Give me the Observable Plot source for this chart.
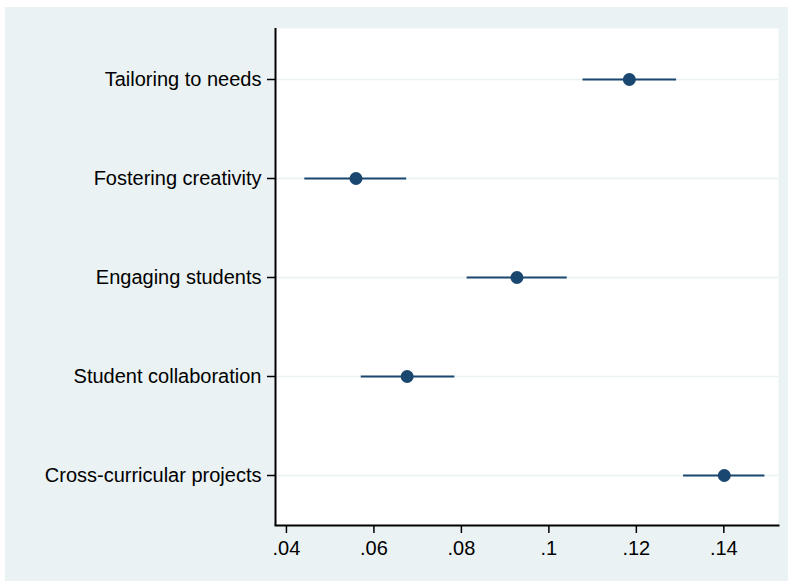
<!DOCTYPE html>
<html>
<head>
<meta charset="utf-8">
<script src="https://cdn.jsdelivr.net/npm/d3@7"></script>
<script src="https://cdn.jsdelivr.net/npm/@observablehq/plot@0.6"></script>
<style>
  html, body { margin: 0; padding: 0; background: #ffffff; }
  #chart { position: absolute; left: 5px; top: 7px; }
  #chart svg { display: block; }
</style>
</head>
<body>
<div id="chart"></div>
<script>
const categories = ["Tailoring to needs", "Fostering creativity", "Engaging students", "Student collaboration", "Cross-curricular projects"];
const estimates = [0.1184, 0.0559, 0.0927, 0.0676, 0.1401];
const lowerCI = [0.1078, 0.0442, 0.0813, 0.0571, 0.1308];
const upperCI = [0.1292, 0.0675, 0.1042, 0.0785, 0.1494];
const xTicks = [0.04, 0.06, 0.08, 0.10, 0.12, 0.14];
const xTickLabels = [".04", ".06", ".08", ".1", ".12", ".14"];

const data = categories.map((c, i) => ({cat: c, est: estimates[i], lo: lowerCI[i], hi: upperCI[i]}));
const xDomain = [0.0375, 0.1525];
const navy = "#1a476f";
const bg = "#eaf2f3";

const chart = Plot.plot({
  width: 783,
  height: 574,
  marginLeft: 270,
  marginRight: 10,
  marginTop: 21,
  marginBottom: 56,
  style: {background: bg, fontFamily: "'Liberation Sans', Arial, sans-serif", fontSize: "20px", color: "black", overflow: "visible"},
  x: {domain: xDomain},
  y: {type: "point", domain: categories, padding: 0.5},
  marks: [
    Plot.frame({fill: "white", stroke: "none"}),
    Plot.gridY({stroke: bg, strokeOpacity: 1, strokeWidth: 1.5}),
    Plot.ruleY(data, {y: "cat", x1: "lo", x2: "hi", stroke: navy, strokeWidth: 2}),
    Plot.dot(data, {x: "est", y: "cat", r: 6.5, fill: navy, stroke: "none"}),
    Plot.axisY({tickSize: 8, tickPadding: 6, label: null, fontSize: 20, stroke: "black", strokeWidth: 1.5}),
    Plot.axisX({ticks: xTicks, tickFormat: d => xTickLabels[xTicks.indexOf(d)], tickSize: 8, tickPadding: 7, label: null, fontSize: 20, stroke: "black", strokeWidth: 1.5}),
    Plot.ruleX([xDomain[0]], {stroke: "black", strokeWidth: 2}),
    Plot.frame({anchor: "bottom", stroke: "black", strokeWidth: 2})
  ]
});
document.getElementById("chart").appendChild(chart);
</script>
</body>
</html>
